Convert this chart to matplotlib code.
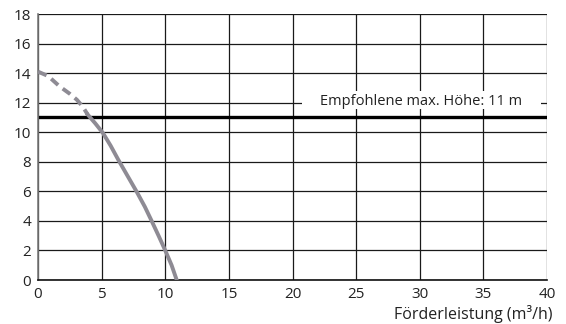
import matplotlib.pyplot as plt
from matplotlib.patches import Rectangle

# Pump curve: head (m) over flow (m3/h)
flow_dashed = [0, 0.8, 1.7, 2.5, 3.05, 3.5, 3.9]
head_dashed = [14.1, 13.8, 13.1, 12.6, 12.2, 11.75, 11.2]
flow_solid = [3.9, 4.5, 5.1, 5.7, 6.3, 7.0, 7.77, 8.4, 8.93, 9.5, 10.0, 10.5, 10.9]
head_solid = [11.2, 10.6, 9.95, 9.1, 8.15, 7.1, 5.95, 4.95, 4.0, 2.95, 2.0, 1.0, 0.0]
max_head = 11
label_text = 'Empfohlene max. Höhe: 11 m'

plt.rcParams['font.family'] = ['Open Sans', 'DejaVu Sans']

fig = plt.figure(figsize=(5.66, 3.24), dpi=100)
ax = fig.add_axes([38 / 566, 1 - 280 / 324, 509 / 566, 266 / 324])

ax.set_xlim(0, 40)
ax.set_ylim(0, 18)
ax.set_xticks(range(0, 41, 5))
ax.set_yticks(range(0, 19, 2))
ax.grid(True, color='#1a1a1a', linewidth=0.9)
ax.set_axisbelow(True)
ax.tick_params(length=0, labelsize=11, colors='#222222', pad=5)
for side in ['top', 'right']:
    ax.spines[side].set_visible(False)
ax.spines['left'].set_color('#7a7a7a')
ax.spines['left'].set_linewidth(1.2)
ax.spines['bottom'].set_color('#111111')
ax.spines['bottom'].set_linewidth(1.2)

# white box behind the label
ax.add_patch(Rectangle((20.75, 11.6), 18.8, 1.2, facecolor='white',
                       edgecolor='none', zorder=1.5))
ax.text(30.1, 12.1, label_text, ha='center', va='center', fontsize=10.5,
        color='#222222', zorder=3)

ax.axhline(max_head, color='black', linewidth=2.4, zorder=2)

ax.plot(flow_dashed, head_dashed, color='#8e8b94', linewidth=2.8,
        linestyle=(0, (2.4, 1.5)), zorder=4, solid_capstyle='butt')
ax.plot(flow_solid, head_solid, color='#8e8b94', linewidth=2.8, zorder=4)

fig.text(553 / 566, 1 - 319 / 324, 'Förderleistung (m³/h)', ha='right',
         va='baseline', fontsize=11.5, color='#222222')

fig.savefig('out.png', dpi=100)
